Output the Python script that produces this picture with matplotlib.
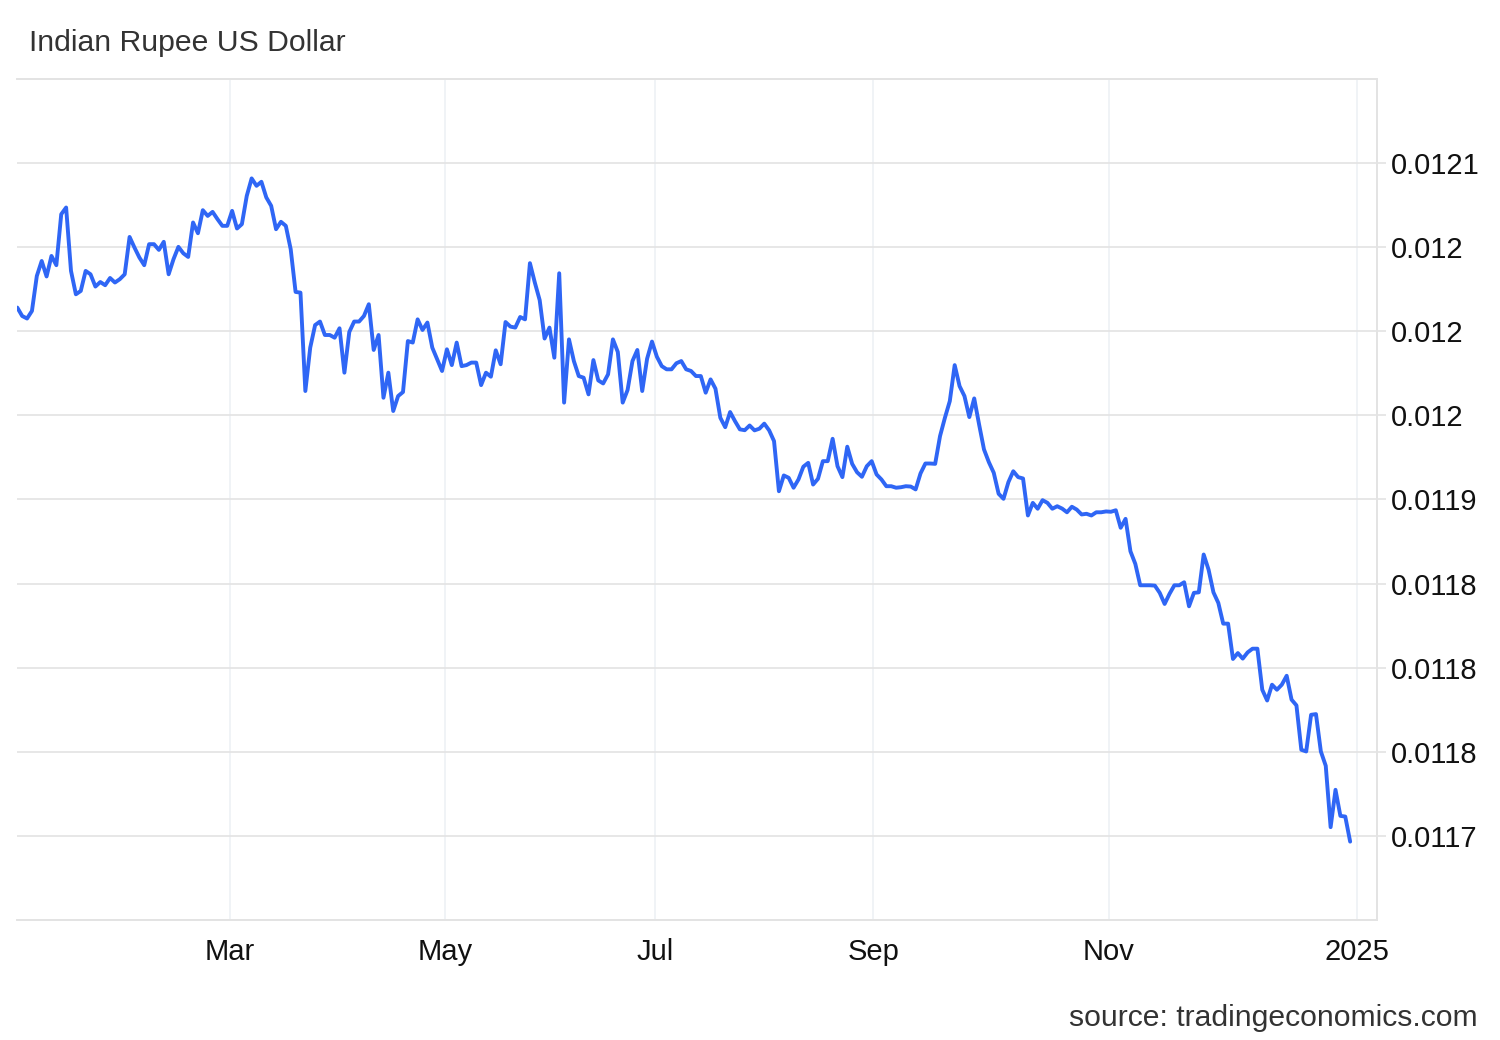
import matplotlib
matplotlib.use("Agg")
import matplotlib.pyplot as plt
import numpy as np

# ---- data (INR in USD, one value per trading observation, 2024) ----
rates = [
    0.0120141, 0.0120091, 0.0120076, 0.0120121, 0.0120329, 0.0120418, 0.0120326, 0.0120448, 0.0120393, 0.0120696,
    0.0120736, 0.0120359, 0.0120220, 0.0120240, 0.0120359, 0.0120339, 0.0120266, 0.0120293, 0.0120274, 0.0120317,
    0.0120290, 0.0120310, 0.0120339, 0.0120561, 0.0120498, 0.0120439, 0.0120393, 0.0120518, 0.0120518, 0.0120484,
    0.0120532, 0.0120339, 0.0120429, 0.0120502, 0.0120464, 0.0120442, 0.0120647, 0.0120583, 0.0120720, 0.0120686,
    0.0120710, 0.0120667, 0.0120627, 0.0120627, 0.0120716, 0.0120611,
    0.0120637, 0.0120805, 0.0120909, 0.0120865, 0.0120889, 0.0120796, 0.0120746, 0.0120607, 0.0120651, 0.0120627,
    0.0120488, 0.0120234, 0.0120230, 0.0119645, 0.0119903, 0.0120037, 0.0120058, 0.0119978, 0.0119978, 0.0119962,
    0.0120018, 0.0119754, 0.0119996, 0.0120058, 0.0120058, 0.0120091, 0.0120161, 0.0119889, 0.0119978, 0.0119605,
    0.0119754, 0.0119526, 0.0119615, 0.0119639, 0.0119942, 0.0119933, 0.0120071, 0.0120008, 0.0120052, 0.0119903,
    0.0119833, 0.0119764, 0.0119893, 0.0119799, 0.0119933, 0.0119793, 0.0119799,
    0.0119814, 0.0119814, 0.0119680, 0.0119754, 0.0119730, 0.0119887, 0.0119804, 0.0120055, 0.0120028, 0.0120022,
    0.0120085, 0.0120071, 0.0120405, 0.0120290, 0.0120185, 0.0119957, 0.0120022, 0.0119843, 0.0120345, 0.0119576,
    0.0119952, 0.0119823, 0.0119734, 0.0119724, 0.0119625, 0.0119829, 0.0119708, 0.0119690, 0.0119744, 0.0119952,
    0.0119877, 0.0119576, 0.0119651, 0.0119823, 0.0119889, 0.0119645, 0.0119837, 0.0119939, 0.0119849, 0.0119793,
    0.0119774, 0.0119774, 0.0119810, 0.0119823, 0.0119774, 0.0119764, 0.0119734, 0.0119734, 0.0119635,
    0.0119714, 0.0119659, 0.0119486, 0.0119430, 0.0119520, 0.0119466, 0.0119417, 0.0119412, 0.0119440, 0.0119411,
    0.0119421, 0.0119451, 0.0119411, 0.0119347, 0.0119049, 0.0119143, 0.0119129, 0.0119070, 0.0119119, 0.0119195,
    0.0119218, 0.0119089, 0.0119123, 0.0119228, 0.0119228, 0.0119361, 0.0119198, 0.0119133, 0.0119314, 0.0119212,
    0.0119162, 0.0119135, 0.0119198, 0.0119228, 0.0119149, 0.0119119, 0.0119079, 0.0119079, 0.0119070, 0.0119073,
    0.0119079, 0.0119077, 0.0119060, 0.0119155, 0.0119214, 0.0119214, 0.0119212, 0.0119377, 0.0119486, 0.0119585,
    0.0119799, 0.0119674, 0.0119615, 0.0119490, 0.0119601, 0.0119446, 0.0119298, 0.0119222, 0.0119159, 0.0119034,
    0.0119004, 0.0119103, 0.0119168, 0.0119133, 0.0119125, 0.0118905, 0.0118980, 0.0118945, 0.0118996, 0.0118980,
    0.0118945, 0.0118960, 0.0118946, 0.0118924, 0.0118957, 0.0118940, 0.0118911, 0.0118915, 0.0118905, 0.0118924,
    0.0118924, 0.0118929, 0.0118927, 0.0118936, 0.0118832, 0.0118885, 0.0118692, 0.0118617, 0.0118490, 0.0118490,
    0.0118490, 0.0118488, 0.0118445, 0.0118379, 0.0118439, 0.0118490, 0.0118490, 0.0118508, 0.0118365,
    0.0118445, 0.0118448, 0.0118673, 0.0118583, 0.0118448, 0.0118385, 0.0118262, 0.0118262, 0.0118052, 0.0118087,
    0.0118054, 0.0118091, 0.0118113, 0.0118113, 0.0117869, 0.0117805, 0.0117899, 0.0117869, 0.0117899, 0.0117952,
    0.0117810, 0.0117776, 0.0117512, 0.0117502, 0.0117720, 0.0117724, 0.0117502, 0.0117417, 0.0117052, 0.0117274,
    0.0117119, 0.0117115, 0.0116966,
]
obs = np.arange(len(rates))

x_tick_labels = ["Mar", "May", "Jul", "Sep", "Nov", "2025"]
x_tick_obs = [43.5, 87.7, 130.7, 175.3, 223.6, 274.4]   # observation index where each month starts

y_ticks = [0.0121, 0.01205, 0.0120, 0.01195, 0.0119, 0.01185, 0.0118, 0.01175, 0.0117]
y_tick_labels = ["0.0121", "0.012", "0.012", "0.012", "0.0119", "0.0118", "0.0118", "0.0118", "0.0117"]

title = "Indian Rupee US Dollar"
source = "source: tradingeconomics.com"

# ---- style ----
plt.rcParams['font.family'] = ['Liberation Sans', 'DejaVu Sans']
LINE = '#2f66f5'
HGRID = '#e3e3e3'
VGRID = '#edf1f5'

fig = plt.figure(figsize=(15, 10.4), dpi=100)
ax = fig.add_axes([17/1500, 120/1040, 1360/1500, 841/1040])

ax.plot(obs, rates, color=LINE, lw=2.8, solid_joinstyle='round', solid_capstyle='round', zorder=3)

ax.set_xlim(-0.06, 278.5)
ax.set_ylim(0.01165, 0.01215)

ax.set_xticks(x_tick_obs)
ax.set_xticklabels(x_tick_labels)
ax.set_yticks(y_ticks)
ax.set_yticklabels(y_tick_labels)

ax.yaxis.tick_right()
ax.tick_params(axis='y', which='both', length=6.5, width=1.2, color=HGRID, pad=3.5,
               labelsize=21, labelcolor='#111111')
ax.tick_params(axis='x', which='both', length=0, pad=13, labelsize=21, labelcolor='#111111')

ax.grid(axis='y', color=HGRID, lw=1.2, zorder=0)
ax.grid(axis='x', color=VGRID, lw=1.2, zorder=0)

for side in ['top', 'bottom', 'right']:
    ax.spines[side].set_color(HGRID)
    ax.spines[side].set_linewidth(1.4)
ax.spines['left'].set_visible(False)

fig.text(29/1500, 1 - 51/1040, title, fontsize=21.7, color='#333333', ha='left', va='baseline')
fig.text(1478/1500, 1 - 1026/1040, source, fontsize=21.7, color='#333333', ha='right', va='baseline')

fig.savefig('out.png', dpi=100, facecolor='white')
